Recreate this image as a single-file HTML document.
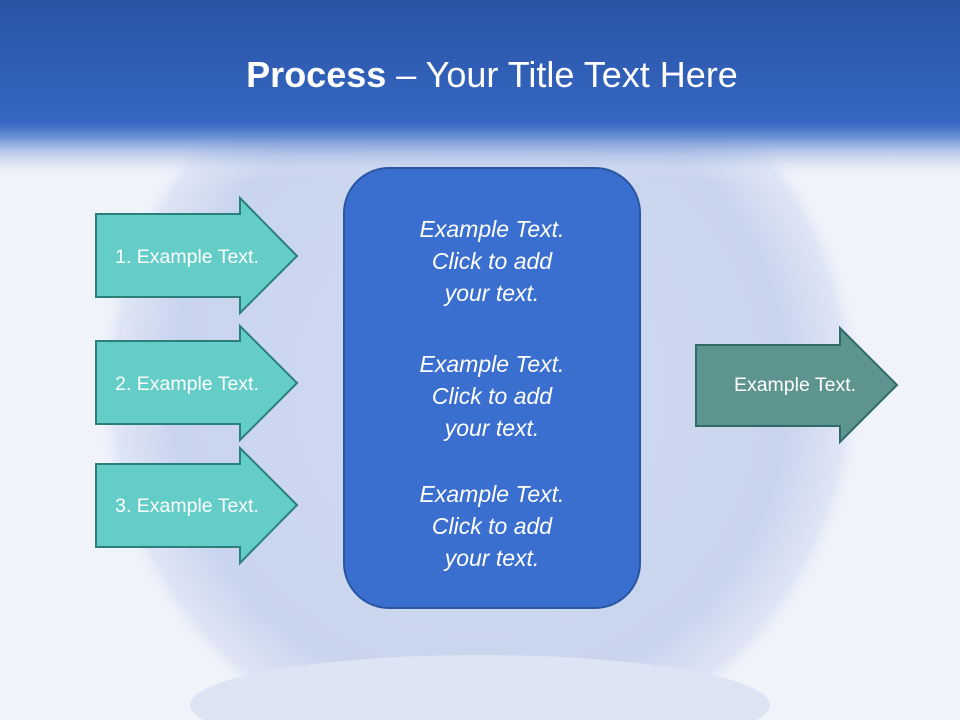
<!DOCTYPE html>
<html><head><style>
html,body{margin:0;padding:0;width:960px;height:720px;overflow:hidden;background:#eef1fa;}
svg{display:block;position:absolute;left:0;top:0}
text{font-family:"Liberation Sans","DejaVu Sans",sans-serif;fill:#fff}
</style></head><body>
<svg width="960" height="720" viewBox="0 0 960 720">
<defs>
<linearGradient id="hdr" x1="0" y1="0" x2="0" y2="1">
<stop offset="0" stop-color="#2a54a4"/><stop offset="0.68" stop-color="#3566c2"/><stop offset="0.76" stop-color="#6a8fd4"/><stop offset="1" stop-color="#f1f3fa" stop-opacity="0"/>
</linearGradient>
<radialGradient id="globe" cx="0.5" cy="0.5" r="0.5">
<stop offset="0" stop-color="#d2dbf1"/><stop offset="0.8" stop-color="#c9d4ee"/><stop offset="0.95" stop-color="#dfe5f5"/><stop offset="1" stop-color="#f1f3fa" stop-opacity="0"/>
</radialGradient>
</defs>
<rect width="960" height="720" fill="#f1f3fa"/>
<circle cx="480" cy="390" r="385" fill="url(#globe)"/>
<ellipse cx="480" cy="705" rx="290" ry="50" fill="#dde4f4"/>
<rect width="960" height="180" fill="url(#hdr)"/>
<text x="492" y="87" text-anchor="middle" font-size="36"><tspan font-weight="bold">Process</tspan> – Your Title Text Here</text>

<g stroke="#2a7f7a" stroke-width="2" fill="#64cdc8">
<polygon points="96,214 240,214 240,198 297,256 240,313 240,297 96,297"/>
<polygon points="96,341 240,341 240,326 297,383 240,440 240,424 96,424"/>
<polygon points="96,464 240,464 240,448 297,505 240,563 240,547 96,547"/>
</g>
<g font-size="19.5" text-anchor="middle">
<text x="187" y="263">1. Example Text.</text>
<text x="187" y="390">2. Example Text.</text>
<text x="187" y="512">3. Example Text.</text>
</g>

<rect x="344" y="168" width="296" height="440" rx="45" fill="#3b6fcf" stroke="#2a55a0" stroke-width="2"/>
<g font-size="23" font-style="italic" text-anchor="middle">
<text x="492" y="237">Example Text.</text>
<text x="492" y="269">Click  to add</text>
<text x="492" y="301">your text.</text>
<text x="492" y="372">Example Text.</text>
<text x="492" y="404">Click  to add</text>
<text x="492" y="436">your text.</text>
<text x="492" y="502">Example Text.</text>
<text x="492" y="534">Click  to add</text>
<text x="492" y="566">your text.</text>
</g>

<polygon points="696,345 840,345 840,328 897,385 840,442 840,426 696,426" fill="#5e948f" stroke="#2f6b66" stroke-width="2"/>
<text x="795" y="391" font-size="19.5" text-anchor="middle">Example Text.</text>
</svg>
</body></html>
